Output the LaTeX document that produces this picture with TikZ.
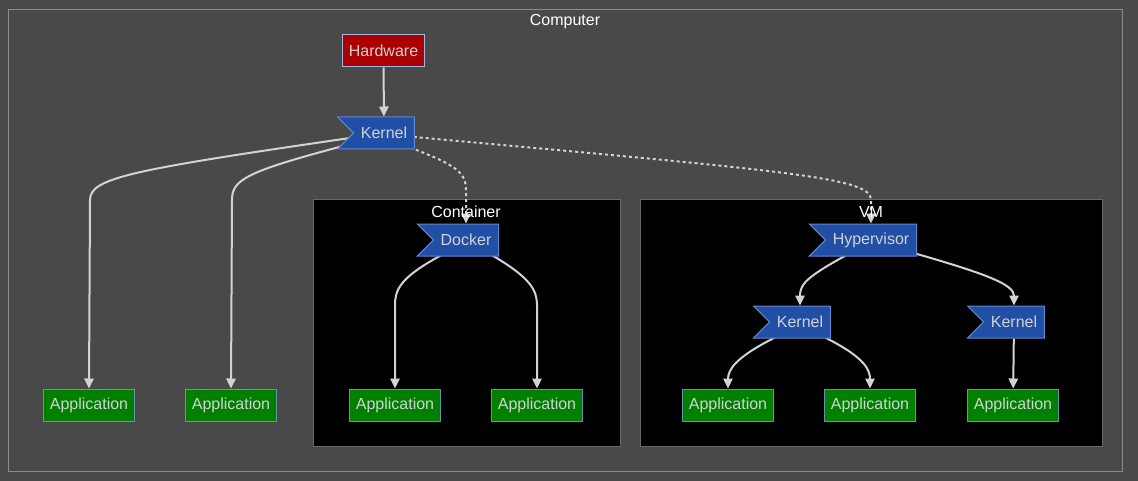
\documentclass[tikz,border=0pt]{standalone}
\usepackage{fontspec}
\setmainfont{Liberation Sans}
\usetikzlibrary{shapes.symbols,arrows.meta,calc}
\definecolor{canvas}{RGB}{72,73,72}
\definecolor{framecol}{RGB}{140,140,140}
\definecolor{innerframe}{RGB}{105,105,105}
\definecolor{edgecol}{RGB}{211,211,211}
\definecolor{labelcol}{RGB}{210,210,210}
\definecolor{hwfill}{RGB}{170,0,0}
\definecolor{bluefill}{RGB}{33,79,165}
\definecolor{bluedraw}{RGB}{98,134,206}
\definecolor{greenfill}{RGB}{0,128,0}
\definecolor{greendraw}{RGB}{96,150,170}
\pgfdeclarelayer{clusters}
\pgfdeclarelayer{edges}
\pgfsetlayers{clusters,edges,main}
\tikzset{
  box/.style={draw, line width=0.75pt, minimum height=24pt, inner xsep=4.5pt,
    text=labelcol, font=\fontsize{12pt}{14pt}\selectfont},
  hw/.style={box, fill=hwfill, draw=bluedraw!60!white},
  app/.style={box, fill=greenfill, draw=greendraw},
  sig/.style={box, fill=bluefill, draw=bluedraw, signal, signal from=west,
    signal to=nowhere, signal pointer angle=90, inner xsep=5.5pt},
  cluster/.style={draw=framecol, line width=0.75pt},
  clabel/.style={text=white, font=\fontsize{12pt}{14pt}\selectfont},
  link/.style={draw=edgecol, line width=1.5pt,
    -{Triangle[length=7.5pt,width=7pt]}},
  dotlink/.style={link, dash pattern=on 2.25pt off 2.25pt}
}
\begin{document}
\begin{tikzpicture}[x=0.75pt,y=-0.75pt]
      \begin{pgfonlayer}{clusters}
        \fill[canvas] (0,0) rectangle (1138,481);
        \draw[cluster, fill=canvas] (8,10) rectangle (1122,471);
        \draw[cluster, draw=innerframe, fill=black] (313,199) rectangle (620,446);
        \draw[cluster, draw=innerframe, fill=black] (640,199) rectangle (1102,446);
      \end{pgfonlayer}
      \draw
        (565,22) node[clabel] (computer){Computer}
        (466,212) node[clabel] (container){Container}
        (871,212) node[clabel] (vm){VM}
        (383.5,51) node[hw] (hardware){Hardware}
        (384,133) node[sig] (kernel){Kernel}
        (466,240) node[sig] (docker){Docker}
        (871,240) node[sig] (hypervisor){Hypervisor}
        (800,322) node[sig] (kernel1){Kernel}
        (1014,322) node[sig] (kernel2){Kernel}
        (89,405) node[app] (app1){Application}
        (231,405) node[app] (app2){Application}
        (395,405) node[app] (app3){Application}
        (537,405) node[app] (app4){Application}
        (728,405) node[app] (app5){Application}
        (870,405) node[app] (app6){Application}
        (1013,405) node[app] (app7){Application};
      \begin{pgfonlayer}{edges}
        \draw[link] (hardware) -- (kernel);
        \draw[link] (kernel.center) -- (350,138) .. controls (130,170) and (90,178) .. (90,200) -- (app1.north);
        \draw[link] (kernel.center) -- (343,146) .. controls (245,172) and (232,180) .. (232,200) -- (app2.north);
        \draw[dotlink] (kernel.center) -- (414,149) .. controls (455,165) and (466,172) .. (466,190) -- (docker.north);
        \draw[dotlink] (kernel.center) -- (414,137) .. controls (800,172) and (871,178) .. (871,200) -- (hypervisor.north);
        \draw[link] (docker.center) -- (438,257) .. controls (400,278) and (395,290) .. (395,305) -- (app3.north);
        \draw[link] (docker.center) -- (495,257) .. controls (530,278) and (537,290) .. (537,305) -- (app4.north);
        \draw[link] (hypervisor.center) -- (843,257) .. controls (805,278) and (800,285) .. (kernel1.north);
        \draw[link] (hypervisor.center) -- (917,254) .. controls (990,275) and (1014,285) .. (kernel2.north);
        \draw[link] (kernel1.center) -- (772,339) .. controls (735,358) and (728,370) .. (app5.north);
        \draw[link] (kernel1.center) -- (828,339) .. controls (865,358) and (870,370) .. (app6.north);
        \draw[link] (kernel2) -- (app7);
      \end{pgfonlayer}
    \end{tikzpicture}
\end{document}
